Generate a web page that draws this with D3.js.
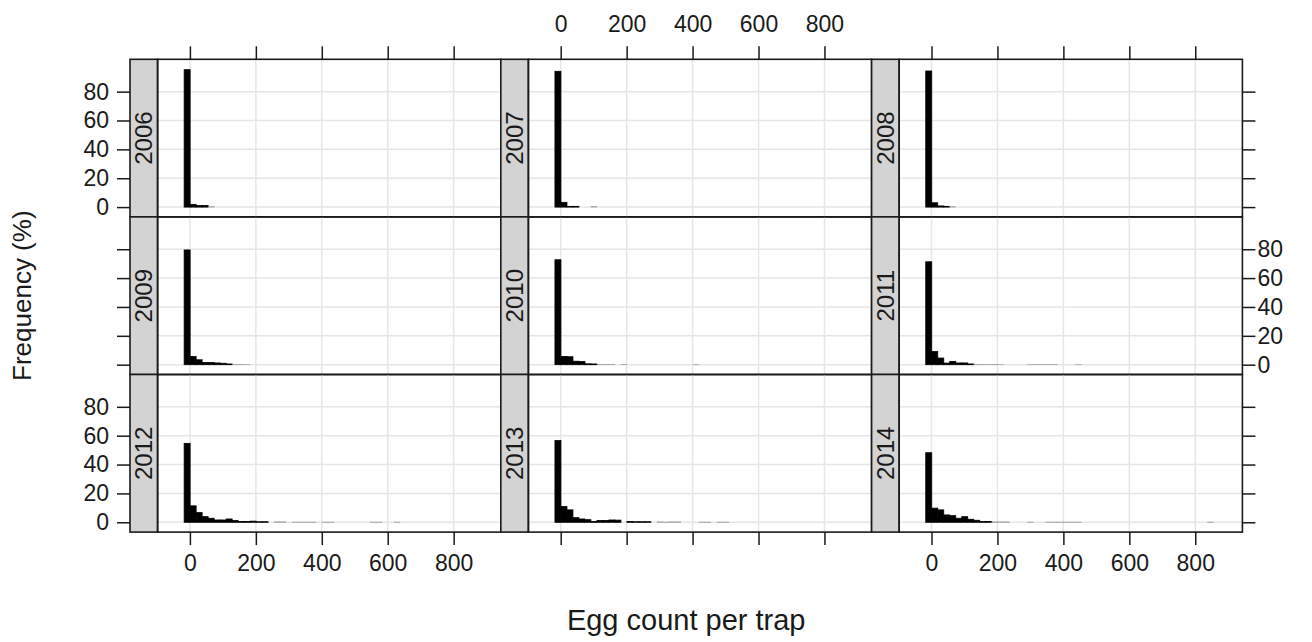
<!DOCTYPE html>
<html>
<head>
<meta charset="utf-8">
<script src="https://cdn.jsdelivr.net/npm/d3@7"></script>
<style>
  body { margin: 0; background: #fff; }
  svg text { font-family: "Liberation Sans", Arial, Helvetica, sans-serif; fill: #1a1a1a; }
</style>
</head>
<body>
<svg id="chart" width="1312" height="642"></svg>
<script>
// histogram bins (egg count per trap)
const binStart = -17.5;
const binWidth = 18.2;

const years = ["2006", "2007", "2008", "2009", "2010", "2011", "2012", "2013", "2014"];

// percent of traps in each bin
const freq2006 = [95.2, 1.9, 1.1, 1.1, 0.3];
const freq2007 = [94.1, 3.3, 0.5, 0.5, 0, 0, 0.3];
const freq2008 = [94.3, 3.0, 0.8, 0.5, 0.3];
const freq2009 = [79.5, 5.7, 3.4, 1.5, 1.5, 1.2, 1.0, 0.5, 0.3, 0.3, 0.2];
const freq2010 = [72.7, 5.7, 5.5, 2.4, 2.2, 0.6, 0.5, 0.3, 0.3, 0.3, 0, 0.3,
                  0, 0, 0, 0, 0, 0, 0, 0, 0, 0, 0, 0.2];
const freq2011 = [71.3, 9.1, 4.6, 1.1, 2.3, 1.2, 1.2, 0.5, 0.3, 0.3, 0.2, 0.3, 0.2,
                  0, 0, 0, 0, 0.2, 0.2, 0.2, 0.2, 0.2, 0, 0, 0, 0.2];
const freq2012 = [54.7, 11.4, 6.7, 3.9, 2.8, 1.6, 1.6, 2.3, 1.2, 0.5, 0.5, 0.8, 0.4, 0.4,
                  0, 0.3, 0.3, 0, 0.2, 0.2, 0.2, 0.2, 0, 0.2, 0.2,
                  0, 0, 0, 0, 0, 0, 0.2, 0.2, 0, 0, 0.2];
const freq2013 = [56.6, 10.9, 8.6, 3.2, 2.3, 1.8, 0.6, 1.3, 1.3, 1.6, 1.5, 0,
                  0.5, 0.4, 0.4, 0.4, 0, 0.3, 0.2, 0.3, 0.3, 0, 0, 0,
                  0.2, 0.2, 0, 0.2, 0.2];
const freq2014 = [48.2, 9.8, 8.6, 5.1, 4.6, 2.8, 3.9, 2.1, 1.4, 0.6, 0.6, 0.3, 0.3, 0.3,
                  0, 0, 0, 0.2, 0, 0, 0.2, 0.2, 0.2, 0.2, 0.2, 0.2,
                  0, 0, 0, 0, 0, 0, 0, 0, 0, 0, 0, 0, 0, 0, 0, 0, 0, 0, 0, 0, 0, 0.2];

const freqs = [freq2006, freq2007, freq2008, freq2009, freq2010, freq2011, freq2012, freq2013, freq2014];

const xTicks = [0, 200, 400, 600, 800];
const yTicks = [0, 20, 40, 60, 80];

// layout
const left0 = 130, colW = 370.8, stripW = 27.6;
const top0 = 59.3, rowH = 157.6;
const tickLen = 13;
const ink = "#1a1a1a";
const tickFont = 23;

const svg = d3.select("#chart");

const xScaleFor = c => d3.scaleLinear()
  .domain([-98, 943])
  .range([left0 + c * colW + stripW, left0 + (c + 1) * colW]);
const yScaleFor = r => d3.scaleLinear()
  .domain([-6.8, 102.4])
  .range([top0 + (r + 1) * rowH, top0 + r * rowH]);

function styleAxis(g, showLabels) {
  g.select(".domain").remove();
  g.selectAll(".tick line").attr("stroke", ink).attr("stroke-width", 1.5);
  g.selectAll(".tick text")
    .attr("font-size", tickFont)
    .style("font-family", '"Liberation Sans", Arial, Helvetica, sans-serif')
    .attr("fill", ink)
    .attr("display", showLabels ? null : "none");
}

years.forEach((yr, i) => {
  const c = i % 3, r = Math.floor(i / 3);
  const x = xScaleFor(c), y = yScaleFor(r);
  const x0 = left0 + c * colW, y0 = top0 + r * rowH;
  const g = svg.append("g");

  // grid
  g.selectAll(".vg").data(xTicks).join("line")
    .attr("x1", d => x(d)).attr("x2", d => x(d))
    .attr("y1", y0).attr("y2", y0 + rowH)
    .attr("stroke", "#e6e6e6").attr("stroke-width", 1.5);
  g.selectAll(".hg").data(yTicks).join("line")
    .attr("x1", x0 + stripW).attr("x2", x0 + colW)
    .attr("y1", d => y(d)).attr("y2", d => y(d))
    .attr("stroke", "#e6e6e6").attr("stroke-width", 1.5);

  // bars
  const bins = freqs[i].map((v, k) => ({ lo: binStart + k * binWidth, hi: binStart + (k + 1) * binWidth, v }))
    .filter(d => d.v > 0);
  g.selectAll(".bar").data(bins).join("rect")
    .attr("x", d => x(d.lo))
    .attr("width", d => x(d.hi) - x(d.lo))
    .attr("y", d => y(d.v))
    .attr("height", d => y(0) - y(d.v))
    .attr("fill", d => d.v < 0.4 ? "#777" : "#000")
    .attr("stroke", d => d.v < 0.4 ? "#999" : "#000")
    .attr("stroke-width", d => d.v < 0.4 ? 0.4 : 0.8);

  // strip
  g.append("rect")
    .attr("x", x0).attr("y", y0)
    .attr("width", stripW).attr("height", rowH)
    .attr("fill", "#d3d3d3").attr("stroke", ink).attr("stroke-width", 1.6);
  g.append("text")
    .attr("transform", `translate(${x0 + stripW / 2 + 8.5},${y0 + rowH / 2}) rotate(-90)`)
    .attr("text-anchor", "middle")
    .attr("font-size", 24)
    .text(yr);

  // frame
  g.append("rect")
    .attr("x", x0 + stripW).attr("y", y0)
    .attr("width", colW - stripW).attr("height", rowH)
    .attr("fill", "none").attr("stroke", ink).attr("stroke-width", 1.6);

  // axes
  if (r === 0) {
    svg.append("g").attr("transform", `translate(0,${y0})`)
      .call(d3.axisTop(x).tickValues(xTicks).tickSize(tickLen).tickPadding(14).tickSizeOuter(0))
      .call(a => styleAxis(a, c === 1));
  }
  if (r === 2) {
    svg.append("g").attr("transform", `translate(0,${y0 + rowH})`)
      .call(d3.axisBottom(x).tickValues(xTicks).tickSize(tickLen).tickPadding(10).tickSizeOuter(0))
      .call(a => styleAxis(a, c !== 1));
  }
  if (c === 0) {
    svg.append("g").attr("transform", `translate(${x0},0)`)
      .call(d3.axisLeft(y).tickValues(yTicks).tickSize(tickLen).tickPadding(8).tickSizeOuter(0))
      .call(a => styleAxis(a, r !== 1));
  }
  if (c === 2) {
    svg.append("g").attr("transform", `translate(${x0 + colW},0)`)
      .call(d3.axisRight(y).tickValues(yTicks).tickSize(tickLen).tickPadding(2).tickSizeOuter(0))
      .call(a => styleAxis(a, r === 1));
  }
});

// axis titles
svg.append("text")
  .attr("x", left0 + colW * 1.5).attr("y", 630)
  .attr("text-anchor", "middle")
  .attr("font-size", 29)
  .text("Egg count per trap");

svg.append("text")
  .attr("transform", `translate(31,${top0 + rowH * 1.5}) rotate(-90)`)
  .attr("text-anchor", "middle")
  .attr("font-size", 26)
  .text("Frequency (%)");
</script>
</body>
</html>
